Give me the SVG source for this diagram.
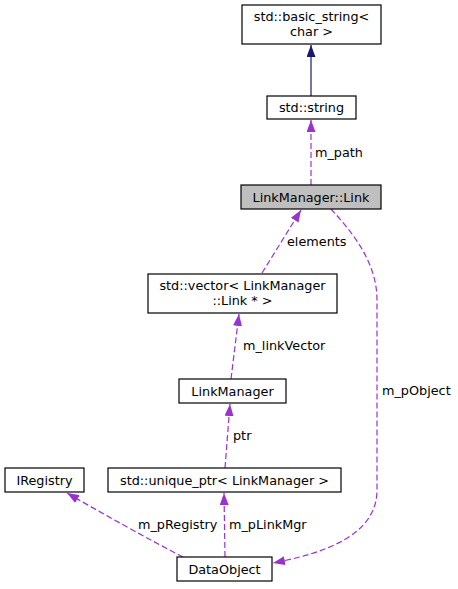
<svg xmlns="http://www.w3.org/2000/svg" width="458" height="589" viewBox="0 0 458 589">
<style>
.box{fill:#ffffff;stroke:#000000;stroke-width:1.2}
.cur{fill:#bfbfbf;stroke:#000000;stroke-width:1.2}
text{font-family:"DejaVu Sans","Liberation Sans",sans-serif;font-size:12.8px;fill:#000000}
.nt{text-anchor:middle}
.inh{fill:none;stroke:#191970;stroke-width:1.2}
.use{fill:none;stroke:#9a32cd;stroke-width:1.2;stroke-dasharray:6,3}
</style>
<defs>
<marker id="ah" markerUnits="userSpaceOnUse" viewBox="0 0 12 9" refX="12" refY="4.5" markerWidth="12" markerHeight="9" orient="auto">
<path d="M0,0 L12,4.5 L0,9 Z" fill="#9a32cd"/>
</marker>
<marker id="ahn" markerUnits="userSpaceOnUse" viewBox="0 0 12 9" refX="12" refY="4.5" markerWidth="12" markerHeight="9" orient="auto">
<path d="M0,0 L12,4.5 L0,9 Z" fill="#191970"/>
</marker>
</defs>
<rect width="458" height="589" fill="#ffffff"/>
<g id="edges">
<path class="inh" d="M311,96 L311,45" marker-end="url(#ahn)"/>
<path class="use" d="M311,185 L311,120" marker-end="url(#ah)"/>
<text x="315" y="157">m_path</text>
<path class="use" d="M262,273 L301,210" marker-end="url(#ah)"/>
<text x="287" y="246">elements</text>
<path class="use" d="M231,379 L239,314" marker-end="url(#ah)"/>
<text x="243" y="350">m_linkVector</text>
<path class="use" d="M225,468 L230,404" marker-end="url(#ah)"/>
<text x="233" y="440">ptr</text>
<path class="use" d="M183,557 C150,540 105,515 67,493" marker-end="url(#ah)"/>
<text x="138" y="529">m_pRegistry</text>
<path class="use" d="M225,557 L224,493" marker-end="url(#ah)"/>
<text x="229" y="529">m_pLinkMgr</text>
<path class="use" d="M331,209 C352,232 377,262 377,300 L377,490 C377,535 325,553 273,563" marker-end="url(#ah)"/>
<text x="382" y="395">m_pObject</text>
</g>
<g id="basic_string">
<rect class="box" x="242" y="5" width="139" height="39"/>
<text class="nt" x="311.5" y="21">std::basic_string&lt;</text>
<text class="nt" x="311.5" y="36">char &gt;</text>
</g>
<g id="std_string">
<rect class="box" x="267" y="96" width="89" height="23"/>
<text class="nt" x="311.5" y="112">std::string</text>
</g>
<g id="link">
<rect class="cur" x="241" y="185" width="140" height="24"/>
<text class="nt" x="311" y="201.5">LinkManager::Link</text>
</g>
<g id="vector">
<rect class="box" x="148" y="274" width="189" height="39"/>
<text class="nt" x="242.5" y="290">std::vector&lt; LinkManager</text>
<text class="nt" x="242.5" y="305">::Link * &gt;</text>
</g>
<g id="linkmanager">
<rect class="box" x="179" y="379" width="107" height="24"/>
<text class="nt" x="232.5" y="395.5">LinkManager</text>
</g>
<g id="iregistry">
<rect class="box" x="5" y="468" width="79" height="24"/>
<text class="nt" x="44.5" y="484.5">IRegistry</text>
</g>
<g id="unique_ptr">
<rect class="box" x="108" y="468" width="233" height="24"/>
<text class="nt" x="224.5" y="484.5">std::unique_ptr&lt; LinkManager &gt;</text>
</g>
<g id="dataobject">
<rect class="box" x="177" y="557" width="95" height="24"/>
<text class="nt" x="224.5" y="573.5">DataObject</text>
</g>
</svg>
